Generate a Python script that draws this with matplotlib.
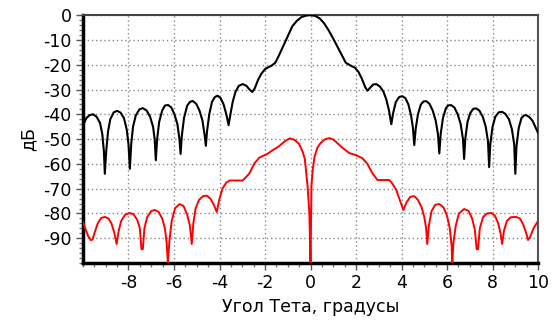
import numpy as np
import matplotlib
matplotlib.use('Agg')
import matplotlib.pyplot as plt
from matplotlib.ticker import MultipleLocator

# sum pattern (black)
theta_sum = [-10.0, -9.85, -9.7, -9.55, -9.4, -9.25, -9.15, -9.08, -9.04, -8.98, -8.9, -8.8,
             -8.65, -8.5, -8.35, -8.2, -8.08, -8.0, -7.94, -7.88, -7.8, -7.68, -7.52, -7.37,
             -7.2, -7.05, -6.92, -6.85, -6.8, -6.74, -6.65, -6.52, -6.4, -6.27, -6.12, -5.98,
             -5.85, -5.76, -5.71, -5.66, -5.56, -5.42, -5.3, -5.18, -5.02, -4.88, -4.75, -4.66,
             -4.6, -4.55, -4.45, -4.33, -4.2, -4.08, -3.95, -3.82, -3.7, -3.6, -3.52, -3.42,
             -3.3, -3.15, -2.98, -2.82, -2.68, -2.56, -2.45, -2.3, -2.15, -2.0, -1.85, -1.7,
             -1.55, -1.4, -1.2, -1.0, -0.8, -0.6, -0.4, -0.2, 0.0, 0.2, 0.4, 0.6, 0.8, 1.0,
             1.2, 1.4, 1.55, 1.75, 1.95, 2.1, 2.25, 2.4, 2.5, 2.62, 2.75, 2.89, 3.05, 3.2,
             3.33, 3.45, 3.55, 3.63, 3.75, 3.9, 4.03, 4.17, 4.3, 4.42, 4.5, 4.56, 4.62, 4.72,
             4.85, 4.97, 5.09, 5.23, 5.37, 5.5, 5.6, 5.66, 5.72, 5.82, 5.95, 6.05, 6.18, 6.32,
             6.47, 6.6, 6.7, 6.75, 6.8, 6.9, 7.02, 7.15, 7.28, 7.42, 7.57, 7.7, 7.8, 7.85,
             7.9, 8.0, 8.12, 8.27, 8.42, 8.56, 8.72, 8.85, 8.95, 9.0, 9.05, 9.15, 9.27, 9.38,
             9.47, 9.6, 9.75, 9.9, 10.0]
db_sum = [-44.5, -41.5, -40.3, -40.0, -41.0, -43.5, -48, -55, -64, -55, -47, -42,
          -39.2, -38.6, -39.3, -41.5, -46, -52, -62, -52, -45, -40.5, -38, -37.5,
          -38.5, -41, -45, -50, -58.5, -50, -43, -38.5, -36.5, -36.2, -37.2, -40,
          -44, -50, -56, -49, -41.5, -36.5, -35, -34.6, -35.8, -38.5, -42.5, -48,
          -52.7, -47, -40, -35, -33, -32.5, -33.5, -36, -40, -44.4, -40, -35,
          -31, -28.5, -27.8, -28.5, -30, -31, -29.5, -26, -23.5, -21.8, -21, -20.3,
          -19.2, -16.5, -12.5, -8.5, -4.5, -2.3, -0.8, -0.2, 0.0, -0.3, -1.3, -3.3, -6.2, -9.5,
          -13, -16.5, -19.2, -20.3, -21.2, -22.8, -25.5, -29, -30.5, -29.3, -28, -27.8, -28.8, -30.8,
          -34, -38.5, -44, -39.5, -35, -33, -32.7, -33.5, -36, -40.5, -45.5, -52.4, -46, -40,
          -36, -34.8, -34.7, -35.8, -38.5, -42.5, -48, -55.8, -48, -41.5, -37.5, -36.4, -36.3, -37.2,
          -40, -44, -50, -58, -50, -43, -39.5, -37.8, -37.6, -38.5, -41, -45, -51, -61.3,
          -52, -45, -41, -39.2, -39, -39.8, -42, -46, -52, -64, -53, -45.5, -41.5, -40.5,
          -40.3, -41, -42.5, -45.5, -47.5]

# difference pattern (red)
theta_diff = [-10.0, -9.9, -9.78, -9.65, -9.58, -9.48, -9.35, -9.2, -9.04, -8.88, -8.75, -8.63,
              -8.52, -8.43, -8.32, -8.15, -7.95, -7.78, -7.62, -7.5, -7.43, -7.37, -7.3, -7.18,
              -7.0, -6.84, -6.68, -6.52, -6.4, -6.32, -6.27, -6.2, -6.1, -5.95, -5.75, -5.58,
              -5.42, -5.3, -5.22, -5.15, -5.05, -4.9, -4.72, -4.56, -4.4, -4.25, -4.12, -4.0,
              -3.86, -3.7, -3.55, -3.2, -2.98, -2.8, -2.68, -2.46, -2.25, -2.1, -1.9, -1.67,
              -1.4, -1.15, -0.92, -0.7, -0.5, -0.35, -0.25, -0.13, -0.05, 0.0, 0.04, 0.1,
              0.18, 0.3, 0.45, 0.65, 0.83, 1.0, 1.13, 1.4, 1.7, 2.0, 2.28, 2.5,
              2.7, 2.94, 3.2, 3.46, 3.6, 3.77, 3.92, 4.08, 4.22, 4.38, 4.56, 4.72,
              4.88, 5.0, 5.08, 5.13, 5.2, 5.32, 5.48, 5.66, 5.84, 6.0, 6.12, 6.2,
              6.23, 6.28, 6.38, 6.52, 6.75, 6.95, 7.1, 7.22, 7.3, 7.36, 7.44, 7.58,
              7.75, 7.94, 8.1, 8.25, 8.35, 8.42, 8.5, 8.63, 8.8, 9.04, 9.2, 9.35,
              9.48, 9.56, 9.65, 9.8, 10.0]
db_diff = [-83.5, -86, -89, -90.8, -90.5, -87.5, -84, -81.8, -81.4, -82, -84, -87.5,
           -92.3, -87, -83, -80.5, -79.8, -80.3, -82.5, -86, -94.4, -94.4, -86, -81.5,
           -79, -78.6, -79.3, -82, -86, -92, -100, -91, -83, -77.8, -76.2, -77,
           -80.5, -85, -92.3, -84, -78, -74.5, -73, -72.8, -74, -76.5, -79.4, -74,
           -69.8, -67.5, -66.7, -66.7, -66.7, -65, -63.7, -59.7, -57.5, -56.8, -56, -54.5,
           -53, -51, -49.7, -50.3, -52, -55, -58, -69, -80, -100, -69, -62,
           -57, -53.5, -51.5, -50, -49.6, -50.2, -51.2, -53.5, -55.6, -56.5, -57.7, -60,
           -63.5, -66.5, -66.5, -66.5, -68, -70.6, -74.5, -78.6, -75.5, -73.3, -73, -74.5,
           -77.5, -81.4, -86, -92.3, -85, -79, -76.5, -76.2, -77.5, -81, -86, -93,
           -100, -92, -85, -80, -78.2, -79, -82, -86.5, -94.4, -94.4, -86, -81.5,
           -80, -79.8, -80.8, -84, -88, -92.3, -87, -83, -81.5, -81.4, -82, -84.5,
           -88, -90.7, -89.5, -86, -83]

x_ticks = [-8, -6, -4, -2, 0, 2, 4, 6, 8, 10]
y_ticks = [0, -10, -20, -30, -40, -50, -60, -70, -80, -90]

plt.rcParams['font.family'] = ['DejaVu Sans']
plt.rcParams['axes.unicode_minus'] = False
fig = plt.figure(figsize=(5.55, 3.22), dpi=100)
ax = fig.add_axes([0.1495, 0.183, 0.82, 0.770])

ax.plot(theta_sum, db_sum, color='black', lw=1.5, zorder=3)
ax.plot(theta_diff, db_diff, color='#ff0000', lw=1.4, zorder=3)

ax.set_xlim(-10, 10)
ax.set_ylim(-100, 0)
ax.set_xticks(x_ticks)
ax.set_yticks(y_ticks)
ax.xaxis.set_minor_locator(MultipleLocator(0.5))
ax.yaxis.set_minor_locator(MultipleLocator(2))
ax.tick_params(axis='both', which='major', labelsize=12.5, length=5, width=1,
               color='#555555', pad=3)
ax.tick_params(axis='both', which='minor', length=3, width=1, color='#777777')
ax.grid(True, which='major', color='#888888', linestyle=(0, (1, 2)), lw=1)

for s in ['left', 'bottom']:
    ax.spines[s].set_linewidth(2.5)
    ax.spines[s].set_color('black')
ax.spines['right'].set_color('#555555')
ax.spines['right'].set_linewidth(1.5)
ax.spines['top'].set_color('#444444')
ax.spines['top'].set_linewidth(1.5)
ax.spines['top'].set_linestyle((0, (1, 1)))

ax.set_xlabel('Угол Тета, градусы', fontsize=12.5, labelpad=4)
ax.set_ylabel('дБ', fontsize=12.5, labelpad=4)

fig.savefig('out.png', dpi=100)
